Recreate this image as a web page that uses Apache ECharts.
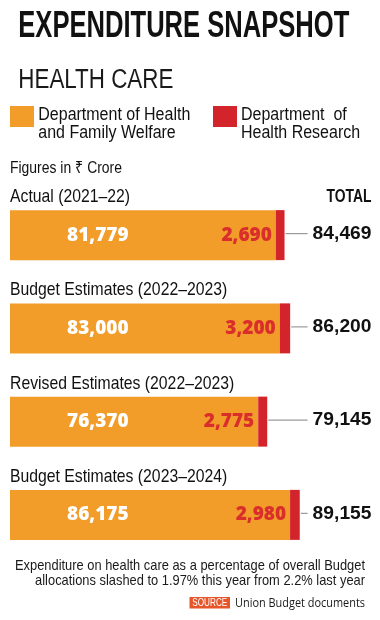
<!DOCTYPE html>
<html><head><meta charset="utf-8">
<script src="https://cdn.jsdelivr.net/npm/echarts@6/dist/echarts.min.js"></script>
<style>html,body{margin:0;padding:0;background:#fff}#c{width:380px;height:620px}</style>
</head><body><div id="c"></div>
<script>
// ---- data ----
const categories = ['Actual (2021–22)', 'Budget Estimates (2022–2023)', 'Revised Estimates (2022–2023)', 'Budget Estimates (2023–2024)'];
const familyWelfare = [81779, 83000, 76370, 86175];
const healthResearch = [2690, 3200, 2775, 2980];
const totals = [84469, 86200, 79145, 89155];
const seriesNames = ['Department of Health\nand Family Welfare', 'Department  of\nHealth Research'];

// ---- style ----
const ORANGE = '#F29C2A', RED = '#D3242B', RED_TXT = '#D92E2B', INK = '#111111';
const NARROW = '"Liberation Sans Narrow", "Liberation Sans", Arial, sans-serif';
const mctx = document.createElement('canvas').getContext('2d');
function tw(text, weight, size, family) { mctx.font = weight + ' ' + size + 'px ' + family; return mctx.measureText(text).width; }
function fit(text, weight, size, family, target) { return target / tw(text, weight, size, family); }
function fmt(v) { return v.toLocaleString('en-US'); }

function txt(x, y, text, opt) {
  return {
    type: 'text', x: x, y: y, scaleX: opt.scaleX || 1, scaleY: opt.scaleY || 1, silent: true,
    style: { text: text, fontFamily: opt.family || NARROW, fontSize: opt.size, fontWeight: opt.weight || 'normal',
      fill: opt.fill || INK, align: opt.align || 'left', verticalAlign: 'middle', lineHeight: opt.lineHeight }
  };
}

const legSx = fit('Department of Health', 'normal', 18.3, NARROW, 152);
const foot1 = 'Expenditure on health care as a percentage of overall Budget';
const foot2 = 'allocations slashed to 1.97% this year from 2.2% last year';
const footSx = fit(foot1, 'normal', 14.1, NARROW, 350);
const SRC_FAM = '"Open Sans", "Noto Sans", sans-serif';

const graphics = [
  txt(18.3, 26.7, 'EXPENDITURE SNAPSHOT', { weight: 'bold', size: 36.6, scaleX: fit('EXPENDITURE SNAPSHOT', 'bold', 36.6, NARROW, 331) }),
  txt(18.3, 80.3, 'HEALTH CARE', { size: 28.4, scaleX: fit('HEALTH CARE', 'normal', 28.4, NARROW, 155), fill: '#1a1a1a' }),
  { type: 'rect', shape: { x: 10, y: 106, width: 24, height: 21 }, style: { fill: ORANGE }, silent: true },
  txt(38.3, 123.9, seriesNames[0], { size: 18.3, lineHeight: 17.7, scaleX: legSx }),
  { type: 'rect', shape: { x: 213, y: 106, width: 24, height: 21 }, style: { fill: RED }, silent: true },
  txt(241, 123.9, seriesNames[1], { size: 18.3, lineHeight: 17.7, scaleX: legSx }),
  txt(10, 167.9, 'Figures in ₹ Crore', { size: 16.9, scaleX: fit('Figures in ₹ Crore', 'normal', 16.9, NARROW, 112) }),
  txt(371.5, 196.7, 'TOTAL', { weight: 'bold', size: 18.3, align: 'right', scaleX: fit('TOTAL', 'bold', 18.3, NARROW, 45) }),
  txt(365, 565.8, foot1, { size: 14.1, align: 'right', scaleX: footSx, fill: '#1a1a1a' }),
  txt(365, 581.5, foot2, { size: 14.1, align: 'right', scaleX: footSx, fill: '#1a1a1a' }),
  { type: 'rect', shape: { x: 189.5, y: 597, width: 40.5, height: 11.5 }, style: { fill: '#E5562B' }, silent: true },
  txt(209.75, 603, 'SOURCE', { size: 11, align: 'center', fill: '#fff', scaleX: fit('SOURCE', 'normal', 11, NARROW, 35) }),
  txt(365, 603.5, 'Union Budget documents', { size: 12.5, family: SRC_FAM, align: 'right', fill: '#1a1a1a',
    scaleX: fit('Union Budget documents', 'normal', 12.5, SRC_FAM, 130) })
];

const CAT_SIZE = 18.5;
const catSx = fit(categories[0], 'normal', CAT_SIZE, NARROW, 120);
const TOT_FAM = '"Liberation Sans", Arial, sans-serif';
const VAL_FAM = '"Open Sans", sans-serif';

const chart = echarts.init(document.getElementById('c'), null, { renderer: 'canvas', width: 380, height: 620 });
chart.setOption({
  animation: false,
  backgroundColor: '#ffffff',
  grid: { left: 10, top: 188.5, width: 325, height: 373, containLabel: false },
  xAxis: { type: 'value', min: 0, max: 100000, show: false },
  yAxis: { type: 'category', data: categories, inverse: true, show: false },
  graphic: graphics,
  series: [
    {
      name: seriesNames[0], type: 'bar', stack: 'total', data: familyWelfare, barWidth: 50,
      itemStyle: { color: ORANGE },
      label: { show: true, position: [57, '50%'], align: 'left', verticalAlign: 'middle',
        formatter: p => fmt(p.value), color: '#ffffff', fontFamily: VAL_FAM, fontWeight: 800, fontSize: 19 }
    },
    {
      name: seriesNames[1], type: 'bar', stack: 'total', data: healthResearch, barWidth: 50,
      itemStyle: { color: RED },
      label: { show: true, position: 'left', distance: 4,
        formatter: p => fmt(p.value), color: RED_TXT, fontFamily: VAL_FAM, fontWeight: 800, fontSize: 19 }
    },
    {
      type: 'custom', data: totals.map((t, i) => [t, i]), encode: { x: 0, y: 1 }, z: 5, silent: true,
      renderItem: function (params, api) {
        const i = params.dataIndex;
        const end = api.coord([api.value(0), i]);
        const start = api.coord([0, i]);
        const cy = end[1];
        const label = fmt(api.value(0));
        const right = api.getWidth() - 8.5;
        const sx = 1.1;
        const w = tw(label, 'bold', 17.5, TOT_FAM) * sx;
        return {
          type: 'group',
          children: [
            { type: 'line', shape: { x1: end[0] + 1, y1: cy - 1.5, x2: right - w - 5, y2: cy - 1.5 },
              style: { stroke: '#9b9b9b', lineWidth: 1.2 } },
            { type: 'text', x: right, y: cy - 1, scaleX: sx,
              style: { text: label, fontFamily: TOT_FAM, fontWeight: 'bold', fontSize: 17.5, fill: INK, align: 'right', verticalAlign: 'middle' } },
            { type: 'text', x: start[0], y: cy - 38, scaleX: catSx,
              style: { text: categories[i], fontFamily: NARROW, fontSize: CAT_SIZE, fill: INK, align: 'left', verticalAlign: 'middle' } }
          ]
        };
      }
    }
  ]
});
</script>
</body></html>
